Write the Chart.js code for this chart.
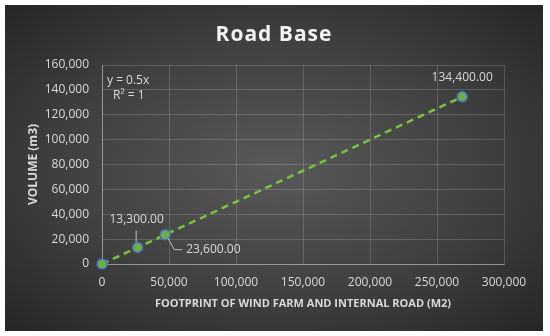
<!DOCTYPE html>
<html lang="en">
  <head>
    <meta charset="UTF-8">
    <title>Road Base</title>
    <script src="https://cdn.jsdelivr.net/npm/chart.js"></script>
    <style>
      html, body { margin: 0; padding: 0; background: #ffffff; }
      #frame {
        position: absolute; left: 5px; top: 5px; width: 538px; height: 326px;
        background: radial-gradient(ellipse at 50% 50%, #595959 0%, #404040 55%, #262626 100%);
      }
    </style>
  </head>
  <body>
    <div id="frame"><canvas id="chart" width="538" height="326"></canvas></div>
    <script>
        // Data
        const footprint = [0, 26600, 47200, 268800];       // x (m2)
        const volume = [0, 13300, 23600, 134400];          // y (m3)
        const pointLabels = ['', '13,300.00', '23,600.00', '134,400.00'];
        const equationLines = ['y = 0.5x', 'R² = 1'];
        const chartTitle = 'Road Base';
        const xMin = 0, xMax = 300000, xStep = 50000;
        const yMin = 0, yMax = 160000, yStep = 20000;

        const textGrey = '#d9d9d9';
        const fontFam = "'Open Sans', sans-serif";
        const nf = new Intl.NumberFormat('en-US');

        // title (centred on the whole frame), labels, leader lines, equation
        const labelPlugin = {
            id: 'labels',
            afterDraw(chart) {
                const ctx = chart.ctx;
                ctx.save();
                ctx.font = 'bold 21px ' + fontFam;
                ctx.letterSpacing = '1px';
                ctx.fillStyle = '#f2f2f2';
                ctx.textAlign = 'center';
                ctx.textBaseline = 'middle';
                ctx.fillText(chartTitle, chart.width / 2, 30);
                ctx.restore();
            },
            afterDatasetsDraw(chart) {
                const ctx = chart.ctx;
                const meta = chart.getDatasetMeta(0);
                ctx.save();
                ctx.font = '12px ' + fontFam;
                ctx.fillStyle = textGrey;
                ctx.strokeStyle = '#bfbfbf';
                ctx.lineWidth = 1;
                ctx.textBaseline = 'middle';
                meta.data.forEach((p, i) => {
                    const t = pointLabels[i];
                    if (!t) return;
                    if (i === 1) {
                        ctx.textAlign = 'center';
                        ctx.fillText(t, p.x - 1, p.y - 28);
                        ctx.beginPath();
                        ctx.moveTo(p.x - 1.5, p.y - 17);
                        ctx.lineTo(p.x - 1.5, p.y - 5);
                        ctx.stroke();
                    } else if (i === 2) {
                        ctx.textAlign = 'left';
                        ctx.fillText(t, p.x + 21, p.y + 15);
                        ctx.beginPath();
                        ctx.moveTo(p.x + 3, p.y + 4);
                        ctx.lineTo(p.x + 9, p.y + 15);
                        ctx.lineTo(p.x + 17, p.y + 15);
                        ctx.stroke();
                    } else {
                        ctx.textAlign = 'center';
                        ctx.fillText(t, p.x, p.y - 19);
                    }
                });
                const a = chart.chartArea;
                ctx.textAlign = 'left';
                ctx.fillText(equationLines[0], a.left + 5, a.top + 16);
                ctx.fillText(equationLines[1], a.left + 11, a.top + 31);
                ctx.restore();
            }
        };

        const linurit = new Chart(document.getElementById('chart'), {
            type: 'scatter',
            data: {
                datasets: [{
                    label: chartTitle,
                    data: footprint.map((x, i) => ({ x: x, y: volume[i] })),
                    showLine: true,
                    clip: false,
                    borderColor: '#7cc242',
                    borderWidth: 2.5,
                    borderDash: [7, 5],
                    pointRadius: 5,
                    pointBorderWidth: 1.5,
                    pointBackgroundColor: '#70ad47',
                    pointBorderColor: '#4472c4'
                }]
            },
            options: {
                responsive: false,
                animation: false,
                layout: { padding: { left: 0, right: 39, top: 60, bottom: 0 } },
                plugins: {
                    legend: { display: false },
                    tooltip: { enabled: false },
                    title: { display: false }
                },
                scales: {
                    x: {
                        type: 'linear', min: xMin, max: xMax,
                        ticks: {
                            stepSize: xStep, color: textGrey, padding: 11,
                            font: { family: fontFam, size: 12 },
                            callback: v => nf.format(v)
                        },
                        grid: { color: 'rgba(255,255,255,0.16)', drawTicks: false },
                        border: { color: 'rgba(255,255,255,0.35)' },
                        title: {
                            display: true,
                            text: 'FOOTPRINT OF WIND FARM AND INTERNAL ROAD (M2)',
                            color: textGrey,
                            font: { family: fontFam, size: 11, weight: 'bold' },
                            padding: { top: 0, bottom: 21 }
                        },
                        afterFit: s => { s.height = 67; }
                    },
                    y: {
                        type: 'linear', min: yMin, max: yMax,
                        ticks: {
                            stepSize: yStep, color: textGrey, padding: 13,
                            font: { family: fontFam, size: 12 },
                            callback: v => nf.format(v)
                        },
                        grid: { color: 'rgba(255,255,255,0.16)', drawTicks: false },
                        border: { color: 'rgba(255,255,255,0.35)' },
                        title: {
                            display: true,
                            text: 'VOLUME (m3)',
                            color: textGrey,
                            font: { family: fontFam, size: 12, weight: 'bold' },
                            padding: { top: 21, bottom: 0 }
                        },
                        afterFit: s => { s.width = 97; }
                    }
                }
            },
            plugins: [labelPlugin]
        });
    </script>
  </body>
</html>
